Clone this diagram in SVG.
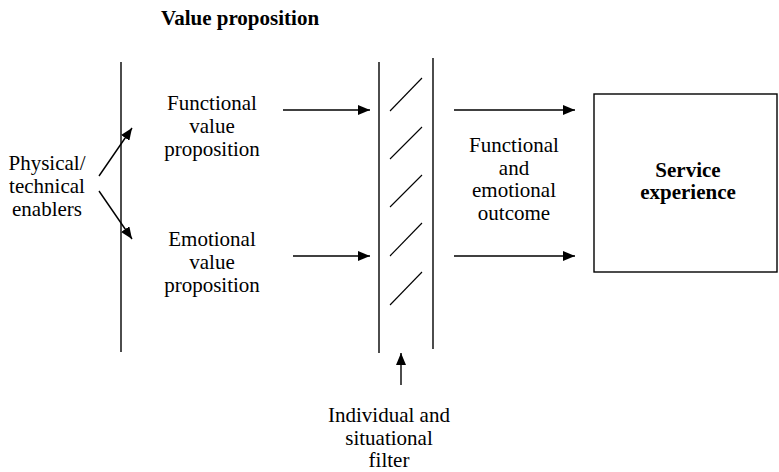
<svg xmlns="http://www.w3.org/2000/svg" width="779" height="472" viewBox="0 0 779 472">
<style>
text{font-family:'Liberation Serif','Times New Roman','DejaVu Serif',serif;font-size:21px;fill:#000;text-anchor:middle}
.b{font-weight:bold}
.ln{stroke:#000;stroke-width:1.4;fill:none}
.h{stroke:#000;stroke-width:1.1;fill:none}
</style>
<defs>
<marker id="ah" markerUnits="userSpaceOnUse" markerWidth="14" markerHeight="10" refX="12" refY="5" orient="auto">
<path d="M0,0 L12,5 L0,10 Z" fill="#000"/>
</marker>
</defs>
<rect width="779" height="472" fill="#fff"/>
<g id="title"><text class="b" x="240" y="25" font-family="Liberation Serif, serif">Value proposition</text></g>
<g id="vp-line"><line class="ln" x1="121" y1="62" x2="121" y2="352"/></g>
<g id="enablers"><text x="47" y="170">Physical/</text><text x="47" y="193">technical</text><text x="47" y="216">enablers</text></g>
<g id="functional-vp"><text x="212" y="110">Functional</text><text x="212" y="133">value</text><text x="212" y="156">proposition</text></g>
<g id="emotional-vp"><text x="212" y="246">Emotional</text><text x="212" y="269">value</text><text x="212" y="292">proposition</text></g>
<g id="filter">
<line class="ln" x1="379" y1="62" x2="379" y2="353"/>
<line class="ln" x1="433" y1="58" x2="433" y2="349"/>
<line class="h" x1="390" y1="111" x2="422" y2="78"/>
<line class="h" x1="390" y1="159" x2="422" y2="127"/>
<line class="h" x1="390" y1="207" x2="422" y2="175"/>
<line class="h" x1="390" y1="256" x2="422" y2="223"/>
<line class="h" x1="390" y1="305" x2="422" y2="272"/>
</g>
<g id="outcome"><text x="514" y="152">Functional</text><text x="514" y="175">and</text><text x="514" y="197">emotional</text><text x="514" y="220">outcome</text></g>
<g id="service-experience"><rect x="594" y="94" width="183" height="178" fill="none" stroke="#000" stroke-width="1.4"/><text class="b" x="688" y="177">Service</text><text class="b" x="688" y="199">experience</text></g>
<g id="filter-label"><text x="389" y="422">Individual and</text><text x="389" y="445">situational</text><text x="389" y="467">filter</text></g>
<g id="connectors">
<line class="ln" x1="99" y1="176" x2="132" y2="128" marker-end="url(#ah)"/>
<line class="ln" x1="99" y1="191" x2="132" y2="239" marker-end="url(#ah)"/>
<line class="ln" x1="283" y1="110" x2="370" y2="110" marker-end="url(#ah)"/>
<line class="ln" x1="293" y1="256" x2="370" y2="256" marker-end="url(#ah)"/>
<line class="ln" x1="454" y1="110" x2="575" y2="110" marker-end="url(#ah)"/>
<line class="ln" x1="454" y1="256" x2="575" y2="256" marker-end="url(#ah)"/>
<line class="ln" x1="401" y1="385" x2="401" y2="353" marker-end="url(#ah)"/>
</g>
</svg>
